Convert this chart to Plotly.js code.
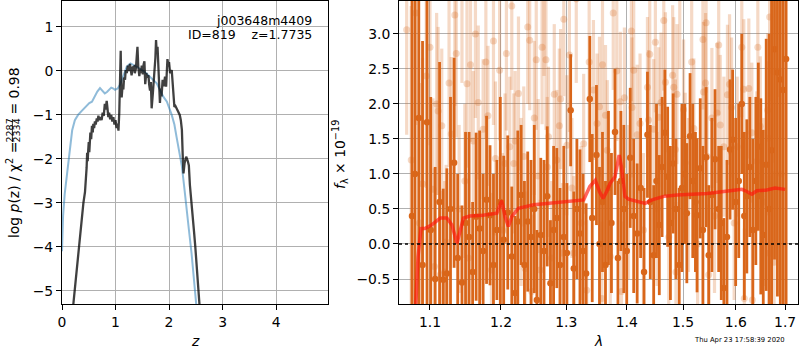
<!DOCTYPE html>
<html>
<head>
<meta charset="utf-8">
<script src="https://cdn.plot.ly/plotly-3.0.1.min.js"></script>
<style>html,body{margin:0;padding:0;background:#fff;}#plot{width:800px;height:350px;}</style>
</head>
<body>
<div id="plot"></div>
<script>
// ---------- Left panel: p(z) ----------
const priorZ = [0.0,0.02,0.05,0.09,0.12,0.15,0.19,0.24,0.30,0.36,0.42,0.46,0.51,0.56,0.61,0.66,0.71,0.75,0.80,0.84,0.88,0.92,0.96,0.99,1.04,1.08,1.12,1.16,1.21,1.28,1.35,1.46,1.58,1.71,1.77,1.89,1.96,2.05,2.10,2.14,2.18,2.21,2.24,2.28,2.33,2.37,2.42,2.46,2.50,2.53];
const priorLogP = [-4.1,-3.3,-2.8,-2.36,-2.0,-1.65,-1.35,-1.12,-1.0,-0.92,-0.85,-0.78,-0.73,-0.70,-0.58,-0.47,-0.39,-0.45,-0.51,-0.48,-0.42,-0.38,-0.40,-0.43,-0.40,-0.32,-0.20,-0.05,0.10,0.17,0.13,0.05,-0.06,-0.20,-0.28,-0.58,-0.70,-1.0,-1.22,-1.50,-1.78,-1.98,-2.17,-2.6,-3.08,-3.6,-4.14,-4.65,-5.2,-5.6];

const pzZ = [0.20,0.22,0.25,0.28,0.31,0.34,0.37,0.40,0.43,0.45,0.46,0.47,0.48,0.49,0.50,0.51,0.52,0.53,0.545,0.56,0.575,0.585,0.60,0.615,0.63,0.65,0.665,0.68,0.70,0.72,0.74,0.76,0.78,0.80,0.815,0.835,0.85,0.865,0.88,0.90,0.92,0.94,0.96,0.98,1.00,1.02,1.04,1.055,1.07,1.085,1.097,1.105,1.115,1.13,1.146,1.16,1.178,1.19,1.21,1.23,1.25,1.27,1.285,1.30,1.32,1.345,1.36,1.38,1.395,1.41,1.425,1.445,1.46,1.475,1.49,1.51,1.525,1.54,1.555,1.575,1.595,1.615,1.63,1.645,1.66,1.675,1.695,1.71,1.725,1.745,1.757,1.77,1.785,1.80,1.815,1.83,1.845,1.86,1.88,1.90,1.925,1.945,1.97,1.99,2.00,2.02,2.05,2.065,2.08,2.10,2.12,2.14,2.17,2.20,2.22,2.24,2.255,2.27,2.29,2.32,2.35,2.37,2.39,2.41,2.43,2.45,2.47,2.49,2.51,2.53,2.56,2.58];
const pzLogP = [-5.45,-5.2,-4.9,-4.45,-4.05,-3.65,-3.27,-3.0,-2.75,-2.5,-2.2,-1.86,-2.05,-1.8,-1.62,-1.85,-1.57,-1.40,-1.55,-1.25,-1.40,-1.20,-1.30,-1.15,-1.22,-1.08,-1.15,-1.02,-1.12,-1.05,-1.12,-0.95,-1.02,-0.75,-0.88,-0.68,-0.85,-1.05,-0.95,-1.10,-1.0,-1.15,-1.05,-1.22,-1.12,-1.30,-1.20,-1.36,-0.95,-0.3,0.46,-0.2,-0.60,-0.35,-0.42,-0.15,-0.20,0.02,-0.05,0.12,0.0,0.16,-0.02,-0.10,0.08,0.10,-0.05,0.05,0.3,0.55,0.10,-0.12,0.05,-0.05,0.12,-0.08,0.15,0.22,-0.30,-0.05,-0.15,-0.10,-0.32,-0.45,-0.25,-0.85,-0.55,-0.30,-0.10,0.30,0.70,0.40,0.55,0.17,-0.30,-0.73,-0.40,-0.58,-0.20,-0.35,-0.13,-0.36,0.27,0.10,0.20,-0.05,0.02,-0.25,-0.45,-0.82,-0.80,-0.85,-0.90,-1.0,-1.12,-1.34,-1.9,-2.33,-2.10,-1.95,-2.05,-2.15,-2.6,-2.93,-3.15,-3.39,-3.7,-3.99,-4.35,-4.75,-5.2,-5.5];

const zTicks = [0,1,2,3,4];
const logPTicks = [-5,-4,-3,-2,-1,0,1];

// ---------- Right panel: spectrum ----------
const darkLam = [1.076,1.080,1.085,1.090,1.096,1.101,1.107,1.113,1.118,1.123,
1.128,1.133,1.138,1.144,1.149,1.154,1.159,1.164,1.169,1.174,
1.179,1.184,1.189,1.194,1.199,1.204,1.210,1.216,1.221,1.225,
1.230,1.235,1.240,1.245,1.250,1.254,1.260,1.265,1.270,1.275,
1.280,1.285,1.290,1.296,1.301,1.307,1.312,1.317,1.322,1.327,
1.332,1.338,1.342,1.349,1.354,1.359,1.364,1.369,1.374,1.380,
1.385,1.390,1.395,1.400,1.406,1.412,1.418,1.424,1.430,1.436,
1.441,1.447,1.452,1.457,1.462,1.467,1.472,1.477,1.482,1.487,
1.493,1.498,1.503,1.507,1.513,1.518,1.523,1.526,1.532,1.537,
1.543,1.548,1.554,1.560,1.567,1.572,1.577,1.583,1.589,1.594,
1.600,1.606,1.612,1.617,1.622,1.628,1.634,1.640,1.645,1.650,
1.655,1.661,1.667,1.672,1.678,1.684,1.690,1.696,1.702];
const darkFlux = [0.4,1.0,1.80,-0.3,1.74,0.2,-0.5,0.6,-0.51,-0.42,
0.5,1.16,-0.2,-0.55,0.3,0.1,-0.4,0.39,0.22,-0.1,
0.63,0.41,-0.3,0.2,0.6,0.06,0.45,-0.18,-0.7,0.32,
0.7,-0.3,0.32,0.1,0.5,-0.8,0.13,-0.1,0.68,-0.56,
0.2,0.37,-0.3,0.1,-0.13,1.91,-0.35,0.5,0.15,-0.1,
-0.42,2.07,0.37,1.27,0.0,0.6,-0.3,0.8,0.3,1.6,
-0.2,0.9,0.5,-0.1,1.23,0.4,0.15,0.8,-0.4,1.56,
0.6,-0.16,0.9,0.27,1.1,1.59,0.96,0.3,1.15,0.5,
-0.3,0.8,1.0,0.44,1.54,0.9,0.6,0.41,1.08,0.2,
1.24,-0.16,0.7,1.21,0.5,0.3,-0.63,0.1,1.35,1.49,
0.6,0.9,2.0,0.4,0.68,1.1,0.2,0.9,1.39,0.68,
0.13,1.13,0.5,1.34,2.78,2.45,2.35,2.2,2.64];
const darkErr = [3.6,3.0,2.8,3.2,2.6,1.9,1.6,2.0,1.3,1.5,
1.6,1.5,1.2,1.1,1.3,1.5,1.0,1.2,1.4,1.1,
1.2,1.0,1.3,1.0,1.5,1.2,1.1,1.0,1.1,1.3,
1.0,1.2,1.0,1.1,1.2,1.0,1.1,1.3,1.0,0.9,
1.2,1.0,1.1,1.3,1.0,0.8,1.1,1.0,1.2,1.1,
1.0,0.9,1.2,1.0,1.1,1.0,1.2,1.1,1.0,0.9,
1.1,1.0,1.2,1.1,1.0,1.1,1.0,1.0,1.2,0.9,
1.1,1.0,1.1,1.0,1.0,0.9,1.0,1.1,1.0,1.0,
1.1,1.2,1.0,1.0,0.9,1.1,1.0,1.1,1.0,1.2,
1.0,1.0,1.1,1.0,0.9,1.1,1.0,1.1,1.0,1.0,
1.2,1.1,1.0,1.2,1.1,1.0,1.3,1.2,1.2,1.4,
1.5,1.8,2.5,2.8,3.0,3.2,3.5,3.4,3.5];

const lightLam = [1.069,1.075,1.081,1.086,1.090,1.095,1.100,1.104,1.106,1.109,
1.111,1.114,1.116,1.120,1.122,1.126,1.129,1.134,1.136,1.140,
1.144,1.148,1.151,1.153,1.156,1.160,1.163,1.167,1.170,1.174,
1.178,1.181,1.186,1.189,1.192,1.198,1.202,1.206,1.208,1.213,
1.216,1.219,1.221,1.226,1.230,1.234,1.236,1.240,1.243,1.246,
1.250,1.253,1.256,1.259,1.262,1.265,1.268,1.270,1.272,1.277,
1.281,1.285,1.289,1.291,1.294,1.296,1.301,1.305,1.309,1.312,
1.316,1.324,1.328,1.333,1.337,1.344,1.350,1.354,1.358,1.359,
1.364,1.367,1.372,1.377,1.383,1.389,1.391,1.396,1.403,1.408,
1.409,1.412,1.418,1.423,1.429,1.436,1.438,1.440,1.447,1.450,
1.453,1.456,1.460,1.465,1.468,1.474,1.481,1.483,1.486,1.487,
1.489,1.494,1.501,1.504,1.510,1.516,1.520,1.527,1.537,1.538,
1.542,1.543,1.545,1.548,1.554,1.559,1.564,1.567,1.570,1.577,
1.584,1.588,1.592,1.597,1.603,1.612,1.616,1.617,1.626,1.632,
1.633,1.642,1.644,1.649,1.655,1.664,1.666,1.667,1.668,1.676,
1.677,1.685,1.692];
const lightFlux = [3.06,1.20,3.30,0.30,0.86,2.40,2.81,0.78,-0.32,2.00,
1.90,-0.44,1.69,-0.40,0.03,2.30,1.57,3.27,2.72,0.50,
3.70,0.90,2.29,-0.20,2.56,1.47,3.00,2.02,0.40,1.64,
2.60,1.83,-0.37,2.90,1.22,2.48,0.20,1.15,2.72,1.39,
3.40,1.15,1.47,2.15,0.60,1.25,-0.35,3.10,2.91,-0.68,
1.80,2.63,0.97,-0.37,2.81,3.60,2.63,1.10,1.53,-0.20,
2.14,1.20,1.69,2.07,-0.13,3.21,1.41,2.70,0.80,-0.13,
3.50,0.30,1.43,-0.66,2.60,2.20,1.72,1.96,-0.78,2.56,
1.84,1.34,-0.18,3.30,2.47,2.03,-0.68,2.09,0.60,3.04,
1.95,2.48,1.56,1.72,0.20,2.24,1.77,2.71,1.64,2.88,
0.50,1.81,2.02,3.19,2.31,0.10,2.41,2.24,1.35,-0.40,
2.14,3.60,1.92,1.16,0.70,2.60,1.65,0.00,2.92,2.17,
2.30,3.16,1.25,-0.44,1.80,0.40,1.87,2.84,1.70,1.39,
2.13,2.28,1.95,0.30,1.39,2.81,2.21,-0.78,2.22,1.59,
-0.80,1.18,2.81,1.68,0.60,1.91,1.51,-0.13,3.24,2.46,
-0.26,3.60,1.00];
const lightErr = [1.5,2.2,1.6,2.0,1.8,1.6,1.4,1.3,1.4,1.3,
1.2,1.2,1.1,1.3,1.1,1.2,1.1,1.3,1.2,1.2,
1.4,1.1,1.2,1.2,1.1,1.0,1.2,1.1,1.2,1.0,
1.1,1.0,1.1,1.2,1.1,1.0,1.1,1.0,1.1,1.0,
1.2,1.0,1.0,1.1,1.2,1.0,1.1,1.1,1.0,1.1,
1.1,1.0,1.1,1.0,1.1,1.2,1.0,1.0,1.0,1.1,
1.0,1.0,1.1,1.0,1.0,1.1,1.0,1.1,1.0,1.1,
1.2,1.1,1.0,1.0,1.1,1.0,1.0,1.0,1.1,1.0,
1.0,1.0,1.1,1.1,1.0,1.0,1.0,1.0,1.1,1.0,
1.0,1.0,1.0,1.0,1.1,1.0,1.0,1.0,1.0,1.0,
1.1,1.0,1.0,1.0,1.0,1.1,1.0,1.0,1.0,1.0,
1.0,1.1,1.0,1.0,1.1,1.0,1.0,1.0,1.0,1.0,
1.0,1.0,1.0,1.0,1.0,1.1,1.0,1.0,1.0,1.0,
1.0,1.0,1.0,1.1,1.0,1.0,1.0,1.0,1.0,1.0,
1.0,1.0,1.0,1.0,1.2,1.1,1.1,1.1,1.2,1.3,
1.3,1.5,1.5];

const modelLam = [1.081,1.084,1.088,1.093,1.102,1.114,1.123,1.130,1.137,1.141,
1.146,1.155,1.174,1.194,1.199,1.201,1.206,1.211,1.216,1.226,
1.249,1.274,1.301,1.328,1.338,1.347,1.354,1.360,1.366,1.372,
1.380,1.387,1.391,1.397,1.403,1.420,1.432,1.444,1.465,1.489,
1.513,1.545,1.577,1.612,1.622,1.632,1.642,1.662,1.679,1.700];
const modelFlux = [-0.87,-0.18,0.22,0.22,0.27,0.37,0.37,0.27,0.01,0.18,
0.37,0.40,0.41,0.44,0.58,0.62,0.39,0.25,0.39,0.51,
0.56,0.58,0.60,0.63,0.82,0.91,0.75,0.65,0.75,0.87,
0.96,1.27,1.10,0.68,0.64,0.60,0.58,0.63,0.68,0.70,
0.71,0.72,0.75,0.78,0.75,0.71,0.76,0.77,0.80,0.78];

const lamTicks = [1.1,1.2,1.3,1.4,1.5,1.6,1.7];
const lamTickText = ["1.1","1.2","1.3","1.4","1.5","1.6","1.7"];
const fluxTicks = [-0.5,0,0.5,1,1.5,2,2.5,3];
const fluxTickText = ["\u22120.5","0.0","0.5","1.0","1.5","2.0","2.5","3.0"];

// ---------- texts ----------
const objName = "j003648m4409";
const idLine = "ID=819\u00a0\u00a0\u00a0\u00a0z=1.7735";
const stamp = "Thu Apr 23 17:58:39 2020";

const FONT = "DejaVu Sans";
const FS = 13.9;
const FS_SMALL = 12.5;
const orange = "rgb(217,102,26)";
const orangeLight = "rgba(217,102,26,0.25)";

const traces = [
  {x: priorZ, y: priorLogP, type: 'scatter', mode: 'lines', xaxis: 'x', yaxis: 'y',
   line: {color: 'rgba(31,119,180,0.5)', width: 2}, hoverinfo: 'skip'},
  {x: pzZ, y: pzLogP, type: 'scatter', mode: 'lines', xaxis: 'x', yaxis: 'y',
   line: {color: 'rgba(0,0,0,0.75)', width: 2.3}, hoverinfo: 'skip'},
  {x: lightLam, y: lightFlux, type: 'scatter', mode: 'markers', xaxis: 'x2', yaxis: 'y2',
   marker: {color: orangeLight, size: 7, line: {width: 0}},
   error_y: {type: 'data', array: lightErr, visible: true, color: orangeLight, thickness: 3.2, width: 0},
   cliponaxis: true, hoverinfo: 'skip'},
  {x: darkLam, y: darkFlux, type: 'scatter', mode: 'markers', xaxis: 'x2', yaxis: 'y2',
   marker: {color: orange, size: 6.5, line: {width: 0}},
   error_y: {type: 'data', array: darkErr, visible: true, color: orange, thickness: 2.8, width: 0},
   cliponaxis: true, hoverinfo: 'skip'},
  {x: modelLam, y: modelFlux, type: 'scatter', mode: 'lines', xaxis: 'x2', yaxis: 'y2',
   line: {color: 'rgba(255,20,10,0.65)', width: 3.5}, hoverinfo: 'skip'}
];

const axCommon = {
  showgrid: true, gridcolor: '#b0b0b0', gridwidth: 1,
  showline: true, linecolor: 'black', linewidth: 1, mirror: true,
  ticks: 'outside', ticklen: 5, tickwidth: 1, tickcolor: 'black',
  zeroline: false, tickfont: {family: FONT, size: FS, color: 'black'},
  tickmode: 'array'
};
const yDom = [46/350, 349/350];

const layout = {
  width: 800, height: 350,
  margin: {l: 0, r: 0, t: 0, b: 0},
  paper_bgcolor: 'white', plot_bgcolor: 'white',
  showlegend: false,
  font: {family: FONT, size: FS, color: 'black'},
  xaxis: Object.assign({}, axCommon, {domain: [62/800, 328/800], range: [0, 4.97], tickvals: zTicks, anchor: 'y'}),
  yaxis: Object.assign({}, axCommon, {domain: yDom, range: [-5.3, 1.59], tickvals: logPTicks, anchor: 'x'}),
  xaxis2: Object.assign({}, axCommon, {domain: [399/800, 798/800], type: 'log',
    range: [Math.log10(1.059), Math.log10(1.727)], tickvals: lamTicks, ticktext: lamTickText, anchor: 'y2'}),
  yaxis2: Object.assign({}, axCommon, {domain: yDom, range: [-0.857, 3.47], tickvals: fluxTicks, ticktext: fluxTickText, anchor: 'x2'}),
  shapes: [
    {type: 'line', xref: 'x2 domain', yref: 'y2', x0: 0, x1: 1, y0: 0, y1: 0,
     line: {color: 'black', width: 1.6, dash: 'dot'}, layer: 'above'},
    {type: 'line', xref: 'paper', yref: 'paper', x0: 12.4/800, x1: 12.4/800, y0: (350-142)/350, y1: (350-119)/350,
     line: {color: 'black', width: 0.8}}
  ],
  annotations: [
    {xref: 'paper', yref: 'paper', x: 314/800, y: (350-20)/350, xanchor: 'right', yanchor: 'middle',
     text: objName, showarrow: false, font: {family: FONT, size: FS_SMALL}},
    {xref: 'paper', yref: 'paper', x: 314/800, y: (350-35)/350, xanchor: 'right', yanchor: 'middle',
     text: idLine, showarrow: false, font: {family: FONT, size: FS_SMALL}},
    {xref: 'paper', yref: 'paper', x: 195/800, y: (350-341)/350, xanchor: 'center', yanchor: 'middle',
     text: '<i>z</i>', showarrow: false, font: {family: FONT, size: FS}},
    {xref: 'paper', yref: 'paper', x: 598/800, y: (350-341)/350, xanchor: 'center', yanchor: 'middle',
     text: '<i>λ</i>', showarrow: false, font: {family: FONT, size: FS}},
    {xref: 'paper', yref: 'paper', x: 13/800, y: (350-240)/350, xanchor: 'center', yanchor: 'bottom', textangle: -90,
     text: 'log <i>p</i>(z) / χ<sup>2</sup> =', showarrow: false, font: {family: FONT, size: FS}},
    {xref: 'paper', yref: 'paper', x: 9/800, y: (350-130.5)/350, xanchor: 'center', yanchor: 'middle', textangle: -90,
     text: '2287', showarrow: false, font: {family: FONT, size: 9.5}},
    {xref: 'paper', yref: 'paper', x: 16/800, y: (350-130.5)/350, xanchor: 'center', yanchor: 'middle', textangle: -90,
     text: '2334', showarrow: false, font: {family: FONT, size: 9.5}},
    {xref: 'paper', yref: 'paper', x: 13/800, y: (350-66)/350, xanchor: 'center', yanchor: 'top', textangle: -90,
     text: '= 0.98', showarrow: false, font: {family: FONT, size: FS}},
    {xref: 'paper', yref: 'paper', x: 340/800, y: (350-155)/350, xanchor: 'center', yanchor: 'middle', textangle: -90,
     text: '<i>f</i><sub>λ</sub> × 10<sup>−19</sup>', showarrow: false, font: {family: FONT, size: FS}},
    {xref: 'paper', yref: 'paper', x: 787/800, y: (350-340)/350, xanchor: 'right', yanchor: 'middle',
     text: stamp, showarrow: false, font: {family: FONT, size: 6.8}}
  ]
};

Plotly.newPlot('plot', traces, layout, {staticPlot: true, displayModeBar: false});
</script>
</body>
</html>
